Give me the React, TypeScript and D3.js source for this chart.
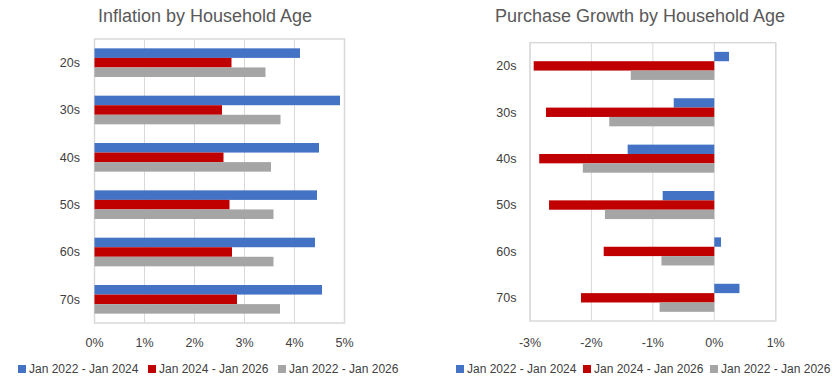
import React from "react";
import * as d3 from "d3";

const categories = ["20s", "30s", "40s", "50s", "60s", "70s"];
const seriesNames = ["Jan 2022 - Jan 2024", "Jan 2024 - Jan 2026", "Jan 2022 - Jan 2026"];
const seriesColors = ["#4472c4", "#c00000", "#a5a5a5"];

const inflation2224 = [4.11, 4.91, 4.49, 4.45, 4.41, 4.55];
const inflation2426 = [2.74, 2.55, 2.58, 2.70, 2.75, 2.85];
const inflation2226 = [3.42, 3.72, 3.53, 3.58, 3.58, 3.71];

const growth2224 = [0.24, -0.66, -1.41, -0.84, 0.11, 0.41];
const growth2426 = [-2.94, -2.74, -2.85, -2.69, -1.80, -2.17];
const growth2226 = [-1.36, -1.71, -2.14, -1.78, -0.86, -0.89];

const inflationTicks = [0, 1, 2, 3, 4, 5];
const growthTicks = [-3, -2, -1, 0, 1];

const FONT = "'Liberation Sans', Arial, sans-serif";
const GRID = "#d9d9d9";
const TXT = "#404040";

type ChartProps = {
  title: string;
  titleX: number;
  series: number[][];
  ticks: number[];
  x0: number;
  x1: number;
  y0: number;
  y1: number;
  labelX: number;
  legendX: number[];
};

function Chart({ title, titleX, series, ticks, x0, x1, y0, y1, labelX, legendX }: ChartProps) {
  const x = d3.scaleLinear().domain([ticks[0], ticks[ticks.length - 1]]).range([x0, x1]);
  const y = d3.scaleBand<string>().domain(categories).range([y0, y1]).paddingInner(0.395).paddingOuter(0.1975);
  const sub = d3.scaleBand<number>().domain([0, 1, 2]).range([0, y.bandwidth()]);
  const zero = x(0);
  return (
    <g>
      <text x={titleX} y={22} textAnchor="middle" fontFamily={FONT} fontSize={18} fill="#595959">
        {title}
      </text>
      {ticks.map((t) => (
        <line key={"g" + t} x1={x(t)} x2={x(t)} y1={y0} y2={y1} stroke={GRID} strokeWidth={1} />
      ))}
      <rect x={x0} y={y0} width={x1 - x0} height={y1 - y0} fill="none" stroke={GRID} strokeWidth={1.5} />
      {series.map((vals, si) =>
        vals.map((v, ci) => {
          const by = (y(categories[ci]) as number) + (sub(si) as number);
          const xv = x(v);
          return (
            <rect
              key={si + "-" + ci}
              x={Math.min(xv, zero)}
              y={by}
              width={Math.abs(xv - zero)}
              height={sub.bandwidth()}
              fill={seriesColors[si]}
            />
          );
        })
      )}
      {categories.map((c) => (
        <text
          key={c}
          x={labelX}
          y={(y(c) as number) + y.bandwidth() / 2}
          dy="0.35em"
          textAnchor="end"
          fontFamily={FONT}
          fontSize={12.5}
          fill={TXT}
        >
          {c}
        </text>
      ))}
      {ticks.map((t) => (
        <text key={"t" + t} x={x(t)} y={343} dy="0.35em" textAnchor="middle" fontFamily={FONT} fontSize={12.5} fill={TXT}>
          {t + "%"}
        </text>
      ))}
      {seriesNames.map((n, i) => (
        <g key={n}>
          <rect x={legendX[i]} y={365} width={8} height={8} fill={seriesColors[i]} />
          <text x={legendX[i] + 11} y={369} dy="0.35em" fontFamily={FONT} fontSize={12} fill={TXT}>
            {n}
          </text>
        </g>
      ))}
    </g>
  );
}

export default function App() {
  return (
    <svg width={840} height={387} style={{ position: "absolute", left: 0, top: 0, background: "#fff" }}>
      <rect x={0} y={0} width={840} height={387} fill="#fff" />
      <Chart
        title="Inflation by Household Age"
        titleX={205}
        series={[inflation2224, inflation2426, inflation2226]}
        ticks={inflationTicks}
        x0={94.5}
        x1={344.5}
        y0={39}
        y1={323}
        labelX={80}
        legendX={[18, 148, 278]}
      />
      <Chart
        title="Purchase Growth by Household Age"
        titleX={640}
        series={[growth2224, growth2426, growth2226]}
        ticks={growthTicks}
        x0={530}
        x1={775.7}
        y0={42.7}
        y1={321}
        labelX={516.5}
        legendX={[456, 583, 710]}
      />
    </svg>
  );
}
